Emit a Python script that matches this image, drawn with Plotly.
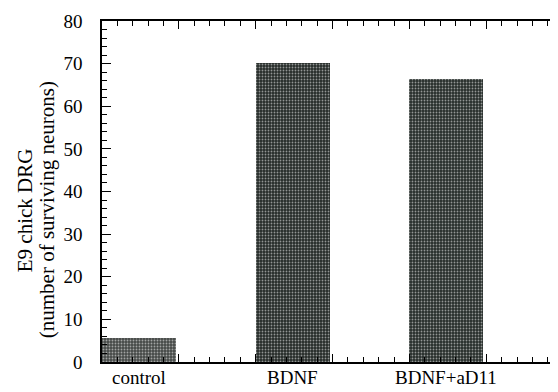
import plotly.graph_objects as go

categories = ["control", "BDNF", "BDNF+aD11"]
values = [5.6, 70.2, 66.4]
y_title_line1 = "E9 chick DRG"
y_title_line2 = "(number of surviving neurons)"

FONT = "'Liberation Serif', 'Times New Roman', serif"

# bars sit between major x ticks: category i spans [2i, 2i+1)
xpos = [2 * i + 0.48 for i in range(len(categories))]

fig = go.Figure()
fig.add_trace(go.Bar(
    x=xpos, y=values, width=0.96,
    marker=dict(
        color=["#454947", "#252b28", "#262d2a"],
        line=dict(width=0),
        pattern=dict(shape=".", fgcolor=["#b4b8b6", "#7f8e86", "#7f8e86"],
                     size=3, solidity=0.3),
    ),
    showlegend=False, hoverinfo="skip",
))
# invisible trace to carry the right-hand axis
fig.add_trace(go.Scatter(x=[0], y=[0], yaxis="y2", mode="markers",
                         marker=dict(opacity=0), showlegend=False, hoverinfo="skip"))

for cat, xp in zip(categories, xpos):
    fig.add_annotation(x=xp, xref="x", y=0, yref="paper", yanchor="top",
                       yshift=-3, text=cat, showarrow=False,
                       font=dict(family=FONT, size=19, color="black"))

fig.add_annotation(x=0, xref="paper", xshift=-77, y=0.445, yref="paper",
                   text=y_title_line1, textangle=-90, showarrow=False,
                   xanchor="center", yanchor="middle",
                   font=dict(family=FONT, size=21, color="black"))
fig.add_annotation(x=0, xref="paper", xshift=-55, y=0.445, yref="paper",
                   text=y_title_line2, textangle=-90, showarrow=False,
                   xanchor="center", yanchor="middle",
                   font=dict(family=FONT, size=21, color="black"))

fig.update_layout(
    width=550, height=384,
    margin=dict(l=94, r=1, t=13, b=30),
    paper_bgcolor="white", plot_bgcolor="white",
    bargap=0,
    xaxis=dict(
        range=[0, 5.92], showgrid=False, zeroline=False,
        showline=True, linecolor="black", linewidth=1.5, mirror="ticks",
        ticks="inside", tickmode="linear", tick0=0, dtick=1, ticklen=8,
        tickwidth=1.3, tickcolor="black", showticklabels=False,
        minor=dict(ticks="inside", dtick=0.2, ticklen=5, tickwidth=1.1,
                   tickcolor="black", showgrid=False),
    ),
    yaxis=dict(
        range=[0, 80], showgrid=False, zeroline=False,
        showline=True, linecolor="black", linewidth=1.5,
        ticks="inside", tickmode="linear", tick0=0, dtick=10, ticklen=9,
        tickwidth=1.3, tickcolor="black", ticklabelstandoff=14,
        tickfont=dict(family=FONT, size=19, color="black"),
        minor=dict(ticks="inside", dtick=2, ticklen=5, tickwidth=1.1,
                   tickcolor="black", showgrid=False),
    ),
    yaxis2=dict(
        overlaying="y", side="right", range=[0, 80], showgrid=False,
        zeroline=False, showline=True, linecolor="#c8c8c8", linewidth=1,
        ticks="inside", tickmode="linear", tick0=0, dtick=10, ticklen=5,
        tickwidth=1.5, tickcolor="black", showticklabels=False,
    ),
)

fig.write_html("out.html")
